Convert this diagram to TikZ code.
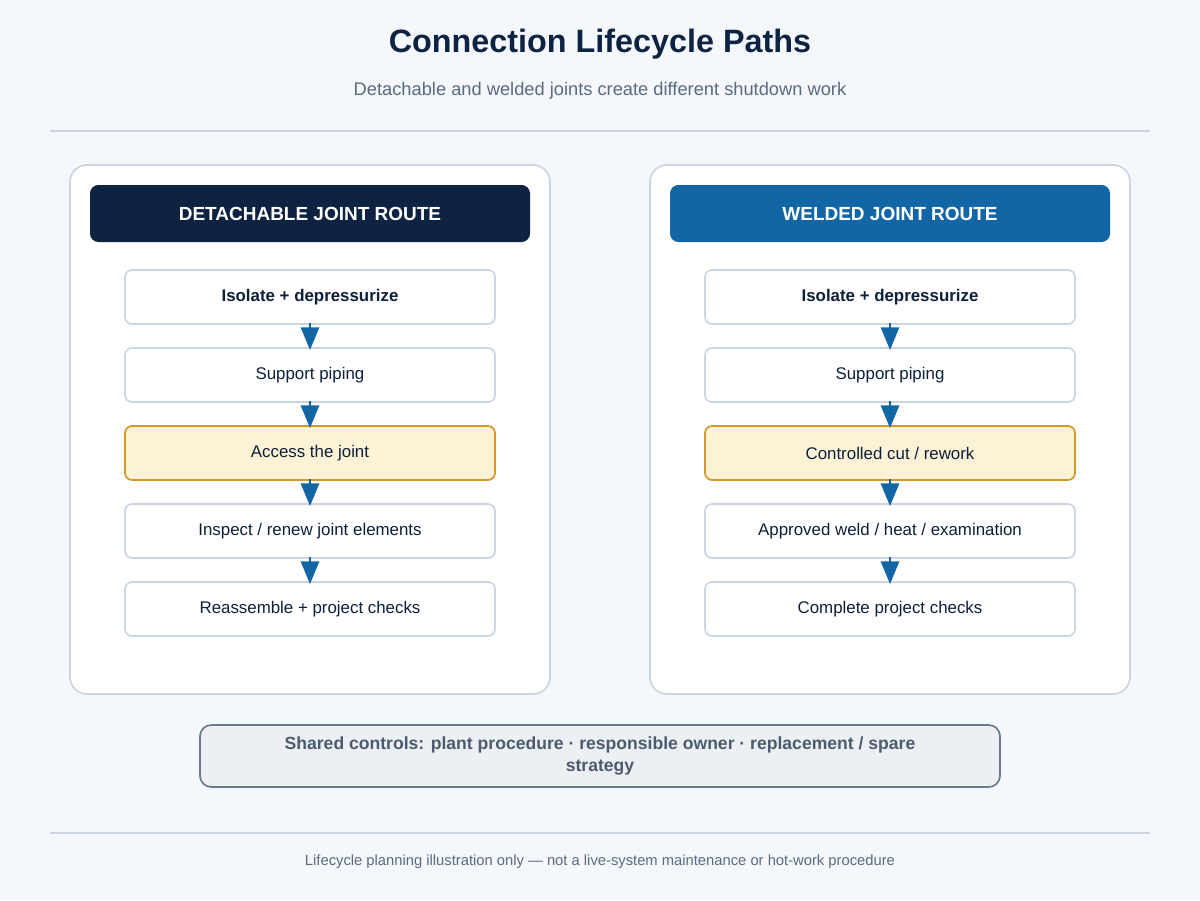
\documentclass[tikz,border=0pt]{standalone}
\usepackage{fontspec}
\setmainfont{Liberation Sans}
\usetikzlibrary{arrows.meta}
\definecolor{bg}{HTML}{F4F7FB}
\definecolor{navy}{HTML}{0D2341}
\definecolor{blu}{HTML}{1366A6}
\definecolor{edge}{HTML}{CBD5E1}
\definecolor{sub}{HTML}{5A6B80}
\definecolor{hfill}{HTML}{FDF1D6}
\definecolor{hedge}{HTML}{D39A2A}
\definecolor{sfill}{HTML}{ECEFF3}
\definecolor{sedge}{HTML}{6B7A8C}
\tikzset{
  stepbox/.style={draw=edge,line width=1.2pt,fill=white,rounded corners=5pt,minimum width=370*0.025cm,minimum height=54*0.025cm,font=\fontsize{12}{14}\selectfont,text=navy!90!black},
  hot/.style={fill=hfill,draw=hedge},
  plain/.style={},
  head/.style={rounded corners=6pt,minimum width=440*0.025cm,minimum height=57*0.025cm,text=white,font=\bfseries\fontsize{13.5}{16}\selectfont},
  flow/.style={draw=blu,line width=1.2pt,-{Triangle[width=13pt,length=16pt]},shorten >=-2pt,shorten <=-1pt},
}
\begin{document}
\begin{tikzpicture}[x=0.025cm,y=-0.025cm]
\fill[bg] (0,0) rectangle (1200,900);
\useasboundingbox (0,0) rectangle (1200,900);
\node[text=navy,font=\bfseries\fontsize{23}{28}\selectfont] (title) at (600,44) {Connection Lifecycle Paths};
\node[text=sub,font=\fontsize{13}{16}\selectfont] (subt) at (600,91) {Detachable and welded joints create different shutdown work};
\draw[edge,line width=1pt] (50,131)--(1150,131) (50,833)--(1150,833);
% panels
\foreach \x in {70,650}
  \draw[edge,line width=1.2pt,fill=white,rounded corners=12pt] (\x,165) rectangle (\x+480,694);
\node[head,fill=navy] (lh) at (310,213.5) {DETACHABLE JOINT ROUTE};
\node[head,fill=blu] (rh) at (890,213.5) {WELDED JOINT ROUTE};
% left steps
\foreach \i/\t/\s in {1/{\textbf{Isolate + depressurize}}/plain,2/{Support piping}/plain,3/{Access the joint}/hot,4/{Inspect / renew joint elements}/plain,5/{Reassemble + project checks}/plain}
  \node[stepbox,\s] (l\i) at (310,219+78*\i) {\t};
% right steps
\foreach \i/\t/\s in {1/{\textbf{Isolate + depressurize}}/plain,2/{Support piping}/plain,3/{Controlled cut / rework}/hot,4/{Approved weld / heat / examination}/plain,5/{Complete project checks}/plain}
  \node[stepbox,\s] (r\i) at (890,219+78*\i) {\t};
\foreach \a/\b in {1/2,2/3,3/4,4/5} {
  \draw[flow] (l\a)--(l\b);
  \draw[flow] (r\a)--(r\b);
}
\node[draw=sedge,line width=1.2pt,fill=sfill,rounded corners=8pt,minimum width=800*0.025cm,minimum height=62*0.025cm,align=center,text=sub!85!black,font=\bfseries\fontsize{12.5}{15}\selectfont] (shared) at (600,756) {Shared controls: plant procedure · responsible owner · replacement / spare\\strategy};
\node[text=sub,font=\fontsize{10.5}{13}\selectfont] (foot) at (600,862) {Lifecycle planning illustration only — not a live-system maintenance or hot-work procedure};
\end{tikzpicture}
\end{document}
